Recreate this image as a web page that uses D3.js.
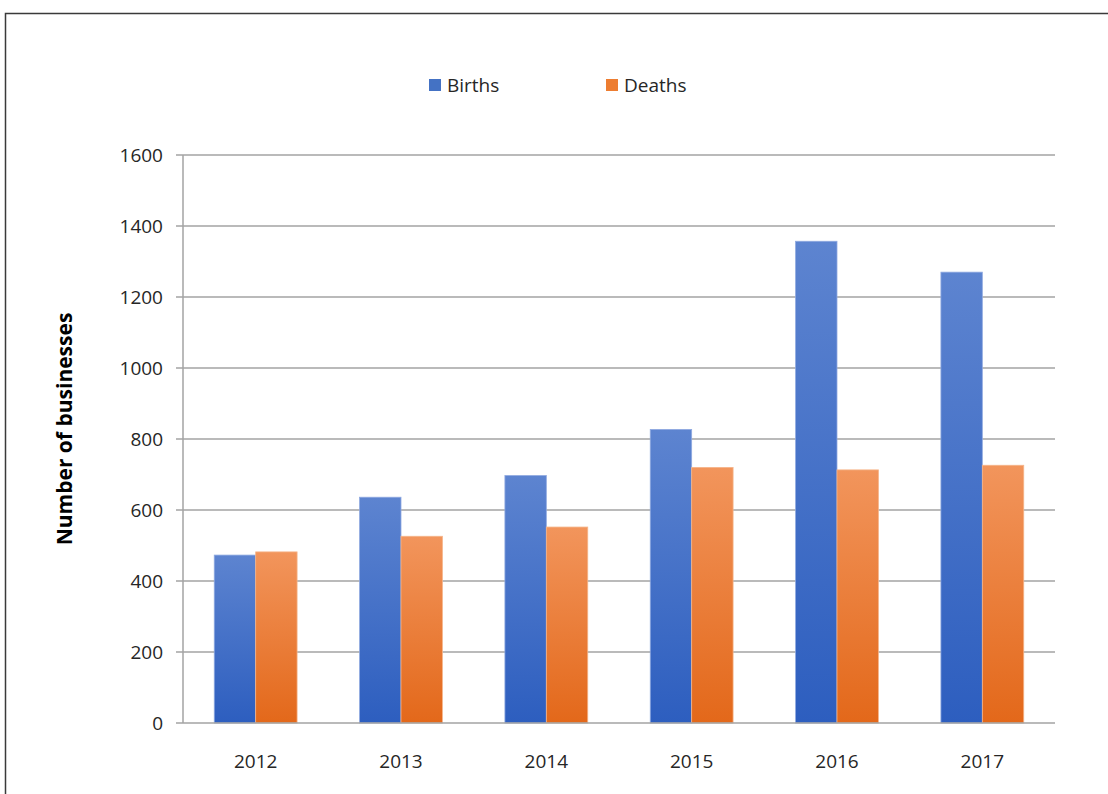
<!DOCTYPE html>
<html>
<head>
<meta charset="utf-8">
<script src="https://cdn.jsdelivr.net/npm/d3@7"></script>
<style>
  html, body { margin: 0; padding: 0; background: #ffffff; }
  svg { display: block; }
  text { font-family: "Open Sans", "Noto Sans", sans-serif; fill: #262626; }
</style>
</head>
<body>
<svg id="chart" width="1108" height="794"></svg>
<script>
const years = ["2012", "2013", "2014", "2015", "2016", "2017"];
const births = [473, 636, 697, 827, 1357, 1270];
const deaths = [482, 526, 552, 720, 713, 726];
const seriesNames = ["Births", "Deaths"];
const yTicks = [0, 200, 400, 600, 800, 1000, 1200, 1400, 1600];

const svg = d3.select("#chart");
const W = 1108, H = 794;
const plot = { left: 183, right: 1055, top: 155, bottom: 723 };

// outer frame
svg.append("rect")
  .attr("x", 5.5).attr("y", 13.5)
  .attr("width", W + 20).attr("height", H + 20)
  .attr("fill", "none").attr("stroke", "#3a3a3a").attr("stroke-width", 1.5);

// gradients
const defs = svg.append("defs");
const grads = [
  { id: "gBirths", top: "#5d84d0", bottom: "#2d5ebf" },
  { id: "gDeaths", top: "#f2955c", bottom: "#e3681a" }
];
grads.forEach(g => {
  const lg = defs.append("linearGradient").attr("id", g.id)
    .attr("x1", 0).attr("y1", 0).attr("x2", 0).attr("y2", 1);
  lg.append("stop").attr("offset", "0%").attr("stop-color", g.top);
  lg.append("stop").attr("offset", "100%").attr("stop-color", g.bottom);
});
const fills = ["url(#gBirths)", "url(#gDeaths)"];
const strokes = ["#8fa9e0", "#f5b58a"];
const legendColors = ["#4472c4", "#ed7d31"];

const x0 = d3.scaleBand().domain(years).range([plot.left, plot.right])
  .paddingInner(0.43).paddingOuter(0.215);
const x1 = d3.scaleBand().domain(seriesNames).range([0, x0.bandwidth()]);
const y = d3.scaleLinear().domain([0, 1600]).range([plot.bottom, plot.top]);

// gridlines
svg.append("g").selectAll("line").data(yTicks.filter(d => d > 0)).join("line")
  .attr("x1", plot.left - 7).attr("x2", plot.right)
  .attr("y1", d => y(d)).attr("y2", d => y(d))
  .attr("stroke", "#a3a3a3").attr("stroke-width", 1.5);

// bars
const data = years.map((yr, i) => ({ year: yr, vals: [births[i], deaths[i]] }));
const groups = svg.append("g").selectAll("g").data(data).join("g")
  .attr("transform", d => `translate(${x0(d.year)},0)`);
groups.selectAll("rect").data(d => d.vals.map((v, k) => ({ v, k }))).join("rect")
  .attr("x", d => x1(seriesNames[d.k]))
  .attr("width", x1.bandwidth())
  .attr("y", d => y(d.v))
  .attr("height", d => y(0) - y(d.v))
  .attr("fill", d => fills[d.k])
  .attr("stroke", d => strokes[d.k])
  .attr("stroke-width", 0.8);

// y axis line
svg.append("line")
  .attr("x1", plot.left).attr("x2", plot.left)
  .attr("y1", plot.top).attr("y2", plot.bottom)
  .attr("stroke", "#a3a3a3").attr("stroke-width", 1.5);
// baseline
svg.append("line")
  .attr("x1", plot.left - 7).attr("x2", plot.right)
  .attr("y1", y(0)).attr("y2", y(0))
  .attr("stroke", "#a3a3a3").attr("stroke-width", 1.5);

// y tick labels
svg.append("g").selectAll("text").data(yTicks).join("text")
  .attr("x", 163).attr("y", d => y(d))
  .attr("dy", "0.36em")
  .attr("text-anchor", "end")
  .attr("font-size", 19)
  .text(d => d);

// x labels
svg.append("g").selectAll("text").data(years).join("text")
  .attr("x", d => x0(d) + x0.bandwidth() / 2)
  .attr("y", 768)
  .attr("text-anchor", "middle")
  .attr("font-size", 19)
  .text(d => d);

// y axis title
svg.append("text")
  .attr("transform", "translate(72,429) rotate(-90)")
  .attr("text-anchor", "middle")
  .attr("font-size", 21)
  .attr("font-weight", "bold")
  .style("fill", "#000")
  .text("Number of businesses");

// legend
const legendX = [429, 606];
const leg = svg.append("g").selectAll("g").data(seriesNames).join("g")
  .attr("transform", (d, i) => `translate(${legendX[i]},79)`);
leg.append("rect").attr("width", 12).attr("height", 12)
  .attr("fill", (d, i) => legendColors[i]);
leg.append("text").attr("x", 18).attr("y", 13)
  .attr("font-size", 19).text(d => d);
</script>
</body>
</html>
